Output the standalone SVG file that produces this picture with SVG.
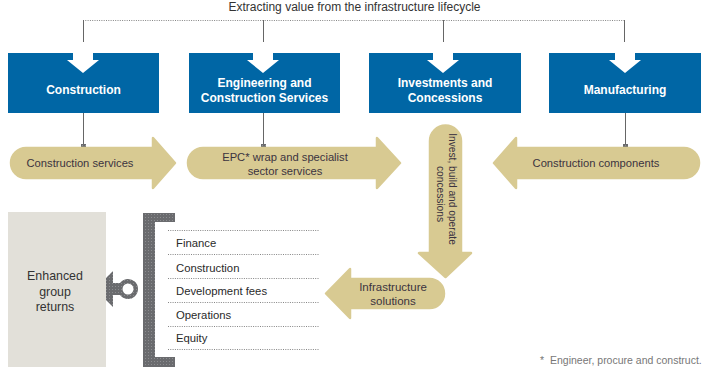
<svg xmlns="http://www.w3.org/2000/svg" width="711" height="373" viewBox="0 0 711 373">
<defs>
<pattern id="tex" width="3" height="3" patternUnits="userSpaceOnUse">
<rect width="3" height="3" fill="#6a6b6e"/>
<rect x="1" y="1" width="1" height="1" fill="#8c8d90"/>
</pattern>
</defs>
<style>
.box{fill:#0066a5}
.boxt{font-family:"Liberation Sans",Arial,sans-serif;font-size:12px;font-weight:bold;fill:#fff;text-anchor:middle}
.wa{fill:#fff}
.gold{fill:#d8ca92;stroke:#d8ca92;stroke-width:2.5;stroke-linejoin:round}
.gt{font-family:"Liberation Sans",Arial,sans-serif;font-size:11.2px;fill:#3b3340;text-anchor:middle}
.lt{font-family:"Liberation Sans",Arial,sans-serif;font-size:11.3px;fill:#2a2a2a}
.dot{stroke:#666;stroke-width:0.8;stroke-dasharray:1 1.3;fill:none}
.ln{stroke:#666;stroke-width:1;fill:none}
.sq{fill:url(#tex)}
</style>
<rect width="711" height="373" fill="#fff"/>
<text x="354.5" y="11" font-family="Liberation Sans,Arial,sans-serif" font-size="12" fill="#333" text-anchor="middle">Extracting value from the infrastructure lifecycle</text>

<g id="connectors">
<line class="dot" x1="83" y1="20.5" x2="624.5" y2="20.5"/>
<line class="ln" x1="83.5" y1="20" x2="83.5" y2="42"/>
<line class="ln" x1="263.5" y1="20" x2="263.5" y2="42"/>
<line class="ln" x1="443.5" y1="20" x2="443.5" y2="42"/>
<line class="ln" x1="624.5" y1="20" x2="624.5" y2="42"/>
<line class="ln" x1="83.5" y1="113" x2="83.5" y2="146"/>
<rect class="sq" x="81" y="144" width="5" height="5"/>
<line class="ln" x1="263.5" y1="113" x2="263.5" y2="146"/>
<rect class="sq" x="261" y="144" width="5" height="5"/>
<line class="ln" x1="625.5" y1="113" x2="625.5" y2="146"/>
<rect class="sq" x="623" y="144" width="5" height="5"/>
</g>

<g id="construction">
<rect class="box" x="8" y="53" width="151" height="60"/>
<path class="wa" d="M73,53 H93 V60 H99 L83,73 L67,60 H73 Z"/>
<text class="boxt" x="83.5" y="94">Construction</text>
</g>
<g id="engineering">
<rect class="box" x="189" y="53" width="151" height="60"/>
<path class="wa" d="M253,53 H273 V60 H279 L263,73 L247,60 H253 Z"/>
<text class="boxt" x="264.5" y="87">Engineering and</text>
<text class="boxt" x="264.5" y="102">Construction Services</text>
</g>
<g id="investments">
<rect class="box" x="369" y="53" width="152" height="60"/>
<path class="wa" d="M433,53 H453 V60 H459 L443,73 L427,60 H433 Z"/>
<text class="boxt" x="445" y="87">Investments and</text>
<text class="boxt" x="445" y="102">Concessions</text>
</g>
<g id="manufacturing">
<rect class="box" x="549" y="53" width="152" height="60"/>
<path class="wa" d="M615,53 H635 V60 H641 L625,73 L609,60 H615 Z"/>
<text class="boxt" x="625" y="94">Manufacturing</text>
</g>

<g id="construction-services">
<path class="gold" d="M153,148 H26 A15,15 0 0 0 26,178 H153 V188 L175,163 L153,138 Z"/>
<text class="gt" x="80" y="167">Construction services</text>
</g>
<g id="epc">
<path class="gold" d="M377,148 H203 A15,15 0 0 0 203,178 H377 V188 L400,163 L377,138 Z"/>
<text class="gt" x="285" y="160.5">EPC* wrap and specialist</text>
<text class="gt" x="285" y="175">sector services</text>
</g>
<g id="construction-components">
<path class="gold" d="M516,148 H684 A15,15 0 0 1 684,178 H516 V188 L494,163 L516,138 Z"/>
<text class="gt" x="596" y="167">Construction components</text>
</g>
<g id="invest-build">
<path class="gold" d="M430,253 V141 A15.5,15.5 0 0 1 461,141 V253 H471 L445.5,277 L419,253 Z"/>
<g transform="translate(446,189) rotate(90)">
<text class="gt" x="0" y="-3" style="font-size:10.2px">Invest, build and operate</text>
<text class="gt" x="5" y="9" style="font-size:10.2px">concessions</text>
</g>
</g>
<g id="infrastructure-solutions">
<path class="gold" d="M350,279 H429.5 A14.5,14.5 0 0 1 429.5,308 H350 V318 L326,293.5 L350,269 Z"/>
<text class="gt" x="393" y="291" style="font-size:11.5px">Infrastructure</text>
<text class="gt" x="393" y="305" style="font-size:11.5px">solutions</text>
</g>

<g id="list">
<path fill="url(#tex)" d="M143,213 H175 V222 H155 V357 H175 V367 H143 Z"/>
<line class="dot" x1="168" y1="230.5" x2="319" y2="230.5"/>
<line class="dot" x1="168" y1="254.5" x2="319" y2="254.5"/>
<line class="dot" x1="168" y1="278.5" x2="319" y2="278.5"/>
<line class="dot" x1="168" y1="302.5" x2="319" y2="302.5"/>
<line class="dot" x1="168" y1="326.5" x2="319" y2="326.5"/>
<line class="dot" x1="168" y1="349.5" x2="319" y2="349.5"/>
<text class="lt" x="176" y="247">Finance</text>
<text class="lt" x="176" y="272">Construction</text>
<text class="lt" x="176" y="295">Development fees</text>
<text class="lt" x="176" y="319">Operations</text>
<text class="lt" x="176" y="342">Equity</text>
</g>

<g id="return-arrow">
<path fill="url(#tex)" d="M95,289 L113,271 V283 H120 A10,10 0 1 1 120,295 H113 V307 Z"/>
<circle cx="128" cy="289" r="5.5" fill="#fff"/>
</g>

<g id="enhanced-returns">
<rect x="8" y="212" width="98" height="155" fill="#e2e0d9"/>
<text x="55" y="280" font-family="Liberation Sans,Arial,sans-serif" font-size="12.4" fill="#333" text-anchor="middle">Enhanced</text>
<text x="55" y="296" font-family="Liberation Sans,Arial,sans-serif" font-size="12.4" fill="#333" text-anchor="middle">group</text>
<text x="55" y="311" font-family="Liberation Sans,Arial,sans-serif" font-size="12.4" fill="#333" text-anchor="middle">returns</text>
</g>

<text x="540" y="364" font-family="Liberation Sans,Arial,sans-serif" font-size="10.5" fill="#777">*<tspan x="550">Engineer, procure and construct.</tspan></text>
</svg>
